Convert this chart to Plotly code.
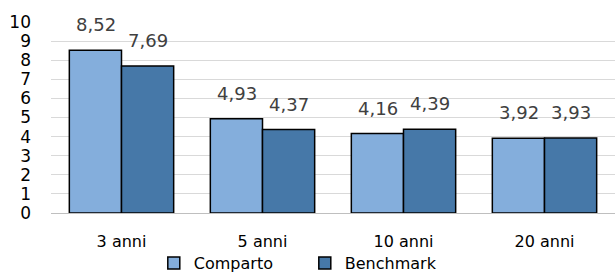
import plotly.graph_objects as go

categories = ["3 anni", "5 anni", "10 anni", "20 anni"]
comparto = [8.52, 4.93, 4.16, 3.92]
benchmark = [7.69, 4.37, 4.39, 3.93]
y_ticks = list(range(0, 11))

def fmt(v):
    return f"{v:.2f}".replace(".", ",")

FONT = "DejaVu Sans"
LABEL_COLOR = "#404040"
fig = go.Figure()
fig.add_trace(go.Bar(
    name="Comparto", x=categories, y=comparto,
    marker=dict(color="#84AEDC", line=dict(color="#000000", width=1.5)),
))
fig.add_trace(go.Bar(
    name="Benchmark", x=categories, y=benchmark,
    marker=dict(color="#4678A8", line=dict(color="#000000", width=1.5)),
))

# data labels placed above each bar (offset for grouped bars)
for series, shift in ((comparto, -26), (benchmark, 26)):
    for c, v in zip(categories, series):
        fig.add_annotation(x=c, y=v, xref="x", yref="y", text=fmt(v), showarrow=False,
                           xanchor="center", yanchor="bottom", xshift=shift, yshift=13,
                           font=dict(family=FONT, size=18, color=LABEL_COLOR))

fig.update_layout(
    width=615, height=273,
    margin=dict(l=51, r=0, t=22, b=60, autoexpand=False),
    paper_bgcolor="white", plot_bgcolor="white",
    barmode="group", bargap=0.26, bargroupgap=0,
    font=dict(family=FONT, size=16, color="#000000"),
    showlegend=True,
    legend=dict(orientation="h", x=0.45, xanchor="center", y=-0.262, yanchor="middle",
                bgcolor="rgba(0,0,0,0)",
                font=dict(family=FONT, size=16, color="#000000"),
                itemwidth=30, traceorder="normal", entrywidth=106),
)
fig.update_yaxes(range=[0, 10], tickvals=y_ticks, showgrid=True, gridcolor="#D9D9D9",
                 gridwidth=1, zeroline=False, showline=False,
                 tickfont=dict(family=FONT, size=17, color="#000000"),
                 ticklabelstandoff=19, fixedrange=True)
fig.update_xaxes(showline=True, linecolor="#BFBFBF", linewidth=1,
                 tickfont=dict(family=FONT, size=16, color="#000000"),
                 ticklabelstandoff=14)
fig.write_html("out.html", config={"displayModeBar": False},
               post_script="document.body.style.margin='0';document.body.style.overflow='hidden';")
